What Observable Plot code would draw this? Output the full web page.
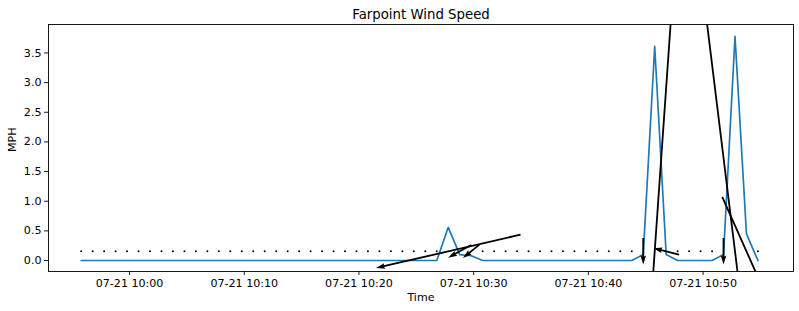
<!DOCTYPE html>
<html>
<head>
<meta charset="utf-8">
<script src="https://cdn.jsdelivr.net/npm/d3@7"></script>
<script src="https://cdn.jsdelivr.net/npm/@observablehq/plot@0.6"></script>
<style>
  html, body { margin: 0; padding: 0; background: white; }
</style>
</head>
<body>
<div id="chart"></div>
<script>
// ---- data ----
const title = "Farpoint Wind Speed";
const yLabel = "MPH";
const xLabel = "Time";

const times = [
  "09:55:47","09:56:47","09:57:47","09:58:47","09:59:47","10:00:47","10:01:47","10:02:47","10:03:47","10:04:47",
  "10:05:47","10:06:47","10:07:47","10:08:47","10:09:47","10:10:47","10:11:47","10:12:47","10:13:47","10:14:47",
  "10:15:47","10:16:47","10:17:47","10:18:47","10:19:47","10:20:47","10:21:47","10:22:47","10:23:47","10:24:47",
  "10:25:47","10:26:47","10:27:47","10:28:47","10:29:47","10:30:47","10:31:47","10:32:47","10:33:47","10:34:47",
  "10:35:47","10:36:47","10:37:47","10:38:47","10:39:47","10:40:47","10:41:47","10:42:47","10:43:47","10:44:47",
  "10:45:47","10:46:47","10:47:47","10:48:47","10:49:47","10:50:47","10:51:47","10:52:47","10:53:47","10:54:47"
];

// wind speed (mph)
const speed = [
  0,0,0,0,0,0,0,0,0,0,
  0,0,0,0,0,0,0,0,0,0,
  0,0,0,0,0,0,0,0,0,0,
  0,0,0.56,0.10,0.08,0,0,0,0,0,
  0,0,0,0,0,0,0,0,0,0.10,
  3.61,0.10,0,0,0,0,0.10,3.78,0.45,0
];

// direction the wind arrow points (degrees clockwise from up)
const direction = [
  0,0,0,0,0,0,0,0,0,0,
  0,0,0,0,0,0,0,0,0,0,
  0,0,0,0,0,0,0,0,0,0,
  0,0,257,241,231,0,0,0,0,0,
  0,0,0,0,0,0,0,0,0,180,
  184,284,0,0,0,0,180,173,156,0
];

const arrowLevel = 0.155; // y level where direction arrows sit

const xTicks = ["10:00","10:10","10:20","10:30","10:40","10:50"];
const yTicks = [0, 0.5, 1.0, 1.5, 2.0, 2.5, 3.0, 3.5];

// ---- build ----
const day = "2023-07-21T";
const parse = s => new Date(day + (s.length === 5 ? s + ":00" : s) + "Z");
const data = times.map((t, i) => ({t: parse(t), speed: speed[i], dir: direction[i]}));
const calm = data.filter(d => d.speed === 0);
const windy = data.filter(d => d.speed > 0);

// matplotlib-like quiver arrow (filled polygon)
const quiverShape = {
  draw(context, l) {
    const w = 1.8, hw = 2.8, hl = 9, hal = 8.1;
    let s = 1;
    if (l < hl * 1.2) s = l / (hl * 1.2);
    const W = w * s, HW = hw * s, HL = hl * s, HAL = hal * s;
    context.moveTo(-W / 2, 0);
    context.lineTo(-W / 2, -(l - HAL));
    context.lineTo(-HW, -(l - HL));
    context.lineTo(0, -l);
    context.lineTo(HW, -(l - HL));
    context.lineTo(W / 2, -(l - HAL));
    context.lineTo(W / 2, 0);
    context.closePath();
  }
};

const chart = Plot.plot({
  width: 799,
  height: 311,
  marginLeft: 48,
  marginRight: 6,
  marginTop: 24,
  marginBottom: 40,
  style: {fontFamily: "DejaVu Sans", fontSize: "11.1px", background: "white", color: "black"},
  x: {type: "utc", domain: [parse("09:52:56"), parse("10:57:53")]},
  y: {domain: [-0.185, 3.98]},
  length: {type: "linear", domain: [0, 1], range: [0, 265]},
  marks: [
    Plot.axisY({ticks: yTicks, tickFormat: d3.format(".1f"), tickSize: 4, tickPadding: 3, label: null, strokeWidth: 0.9}),
    Plot.axisX({ticks: xTicks.map(parse), tickFormat: d3.utcFormat("%m-%d %H:%M"), tickSize: 4, tickPadding: 4, label: null, strokeWidth: 0.9}),
    Plot.line(data, {x: "t", y: "speed", stroke: "#1f77b4", strokeWidth: 1.67, clip: true}),
    Plot.dot(calm, {x: "t", y: () => arrowLevel, r: 1, fill: "black", stroke: null, clip: true}),
    Plot.vector(windy, {x: "t", y: () => arrowLevel, length: "speed", rotate: "dir", anchor: "middle",
      shape: quiverShape, fill: "black", stroke: null, clip: true}),
    Plot.frame({stroke: "black", strokeWidth: 0.9}),
    Plot.text([title], {frameAnchor: "top", lineAnchor: "middle", dy: -10, fontSize: 13.3, fill: "black"}),
    Plot.text([xLabel], {frameAnchor: "bottom", lineAnchor: "middle", dy: 26, fill: "black"}),
    Plot.text([yLabel], {frameAnchor: "left", lineAnchor: "middle", dx: -36, dy: 4, rotate: -90, fill: "black"})
  ]
});
document.getElementById("chart").appendChild(chart);
</script>
</body>
</html>
